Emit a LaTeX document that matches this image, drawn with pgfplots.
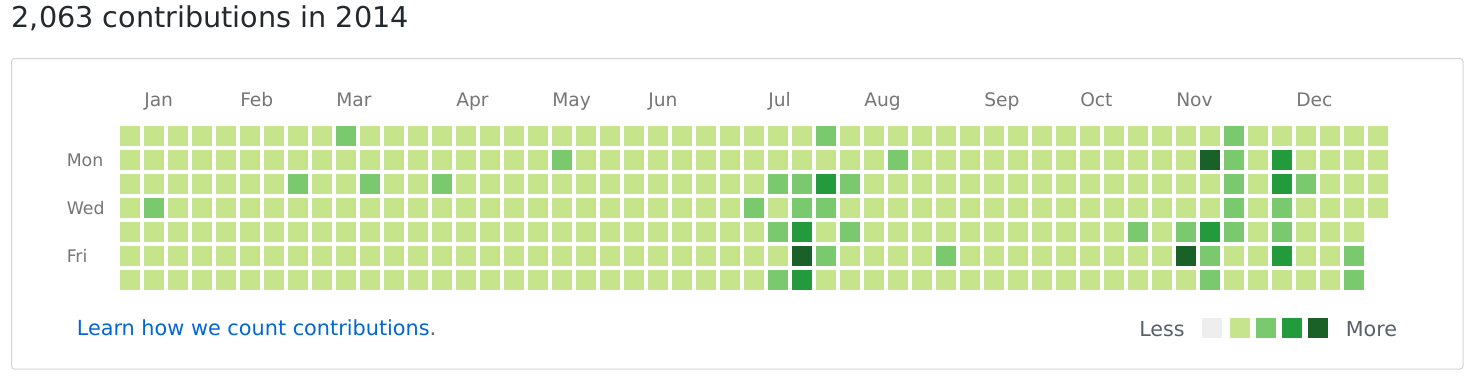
\documentclass[border=0pt]{standalone}
\usepackage{fontspec}
\setmainfont{DejaVu Sans}
\usepackage{pgfplots}
\usepackage{pgfplotstable}
\pgfplotsset{compat=1.18}
\definecolor{c0}{HTML}{EEEEEE}
\definecolor{c1}{HTML}{C6E48B}
\definecolor{c2}{HTML}{7BC96F}
\definecolor{c3}{HTML}{239A3B}
\definecolor{c4}{HTML}{196127}
\definecolor{titlec}{HTML}{24292E}
\definecolor{graylab}{HTML}{767676}
\definecolor{lessc}{HTML}{586069}
\definecolor{linkc}{HTML}{0366D6}
\definecolor{framec}{HTML}{D1D5DA}

% w = week column, d0..d6 = Sun..Sat level (0 = no day)
\pgfplotstableread{
w d0 d1 d2 d3 d4 d5 d6
0 1 1 1 1 1 1 1
1 1 1 1 2 1 1 1
2 1 1 1 1 1 1 1
3 1 1 1 1 1 1 1
4 1 1 1 1 1 1 1
5 1 1 1 1 1 1 1
6 1 1 1 1 1 1 1
7 1 1 2 1 1 1 1
8 1 1 1 1 1 1 1
9 2 1 1 1 1 1 1
10 1 1 2 1 1 1 1
11 1 1 1 1 1 1 1
12 1 1 1 1 1 1 1
13 1 1 2 1 1 1 1
14 1 1 1 1 1 1 1
15 1 1 1 1 1 1 1
16 1 1 1 1 1 1 1
17 1 1 1 1 1 1 1
18 1 2 1 1 1 1 1
19 1 1 1 1 1 1 1
20 1 1 1 1 1 1 1
21 1 1 1 1 1 1 1
22 1 1 1 1 1 1 1
23 1 1 1 1 1 1 1
24 1 1 1 1 1 1 1
25 1 1 1 1 1 1 1
26 1 1 1 2 1 1 1
27 1 1 2 1 2 1 2
28 1 1 2 2 3 4 3
29 2 1 3 2 1 2 1
30 1 1 2 1 2 1 1
31 1 1 1 1 1 1 1
32 1 2 1 1 1 1 1
33 1 1 1 1 1 1 1
34 1 1 1 1 1 2 1
35 1 1 1 1 1 1 1
36 1 1 1 1 1 1 1
37 1 1 1 1 1 1 1
38 1 1 1 1 1 1 1
39 1 1 1 1 1 1 1
40 1 1 1 1 1 1 1
41 1 1 1 1 1 1 1
42 1 1 1 1 2 1 1
43 1 1 1 1 1 1 1
44 1 1 1 1 2 4 1
45 1 4 1 1 3 2 2
46 2 2 2 2 2 1 1
47 1 1 1 1 1 1 1
48 1 3 3 2 2 3 1
49 1 1 2 1 1 1 1
50 1 1 1 1 1 1 1
51 1 1 1 1 1 2 2
52 1 1 1 1 0 0 0
}\cal

\pgfplotsset{cellplot/.style={scatter, only marks, mark=square*, mark size=7.3pt,
  point meta=explicit symbolic,
  scatter/classes={0={mark=square*,white},1={mark=square*,c1},2={mark=square*,c2},3={mark=square*,c3},4={mark=square*,c4}}}}

\begin{document}
\begin{tikzpicture}
\begin{scope}[x=0.75pt,y=-0.75pt]
\useasboundingbox[fill=white] (0,0) rectangle (1478,382);
\node[anchor=base west,inner sep=0,text=titlec,font=\fontsize{21.5pt}{25pt}\selectfont] at (11.5,27.3) {2,063 contributions in 2014};
\draw[framec,line width=0.75pt,rounded corners=2.25pt] (11.5,58.5) rectangle (1463,369);
% month labels
\foreach \m/\px in {Jan/144,Feb/240,Mar/336,Apr/456,May/552,Jun/648,Jul/768,Aug/864,Sep/984,Oct/1080,Nov/1176,Dec/1296}{
  \node[anchor=base west,inner sep=0,text=graylab,font=\fontsize{14pt}{16pt}\selectfont] at (\px,106.7) {\m};
}
\foreach \d/\py in {Mon/166.6,Wed/214.6,Fri/262.6}{
  \node[anchor=base west,inner sep=0,text=graylab,font=\fontsize{13pt}{16pt}\selectfont] at (66.5,\py) {\d};
}
\node[anchor=base west,inner sep=0,font=\fontsize{15.6pt}{18pt}\selectfont] at (76.5,335) {\textcolor{linkc}{Learn how we count contributions}\textcolor{lessc}{.}};
\node[anchor=base west,inner sep=0,text=lessc,font=\fontsize{15.5pt}{18pt}\selectfont] at (1139,336) {Less};
\node[anchor=base west,inner sep=0,text=lessc,font=\fontsize{15.5pt}{18pt}\selectfont] at (1345.5,336) {More};
\fill[c0] (1202,318) rectangle (1222,338);
\fill[c1] (1230,318) rectangle (1250,338);
\fill[c2] (1256,318) rectangle (1276,338);
\fill[c3] (1282,318) rectangle (1302,338);
\fill[c4] (1308,318) rectangle (1328,338);
\end{scope}
\begin{axis}[at={(88.5pt,-93pt)}, anchor=north west, scale only axis,
  width=954pt, height=126pt, xmin=-0.5, xmax=52.5, ymin=-0.5, ymax=6.5,
  y dir=reverse, hide axis, clip=false]
\addplot[cellplot] table[x=w, y expr=0, meta=d0] {\cal};
\addplot[cellplot] table[x=w, y expr=1, meta=d1] {\cal};
\addplot[cellplot] table[x=w, y expr=2, meta=d2] {\cal};
\addplot[cellplot] table[x=w, y expr=3, meta=d3] {\cal};
\addplot[cellplot] table[x=w, y expr=4, meta=d4] {\cal};
\addplot[cellplot] table[x=w, y expr=5, meta=d5] {\cal};
\addplot[cellplot] table[x=w, y expr=6, meta=d6] {\cal};
\end{axis}
\end{tikzpicture}
\end{document}
